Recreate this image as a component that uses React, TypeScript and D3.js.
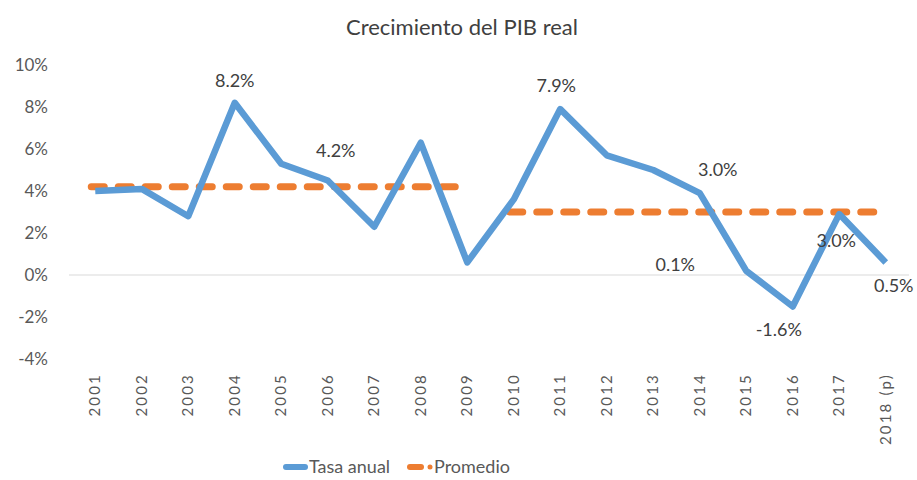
import * as d3 from "d3";
import { useEffect, useRef } from "react";

// categories and values
const years = ["2001", "2002", "2003", "2004", "2005", "2006", "2007", "2008", "2009",
  "2010", "2011", "2012", "2013", "2014", "2015", "2016", "2017", "2018 (p)"];
const tasaAnual = [4.0, 4.1, 2.8, 8.2, 5.3, 4.5, 2.3, 6.3, 0.6,
  3.6, 7.9, 5.7, 5.0, 3.9, 0.2, -1.5, 2.9, 0.6];
// promedio per period
const promedioPeriods = [
  { from: "2001", to: "2009", value: 4.2 },
  { from: "2010", to: "2018 (p)", value: 3.0 },
];
const yTicks = [-4, -2, 0, 2, 4, 6, 8, 10];
// data labels: text, anchor year, anchor value
const dataLabels = [
  { year: "2004", value: 8.2, text: "8.2%", dx: 0, dy: -16 },
  { year: "2006", value: 4.2, text: "4.2%", dx: 8, dy: -30 },
  { year: "2011", value: 7.9, text: "7.9%", dx: -4, dy: -17 },
  { year: "2014", value: 3.0, text: "3.0%", dx: 18, dy: -36 },
  { year: "2015", value: 0.1, text: "0.1%", dx: -71, dy: -2 },
  { year: "2016", value: -1.6, text: "-1.6%", dx: -14, dy: 27 },
  { year: "2017", value: 3.0, text: "3.0%", dx: -3, dy: 35 },
  { year: "2018 (p)", value: 0.5, text: "0.5%", dx: 8, dy: 27 },
];

const BLUE = "#5B9BD5";
const ORANGE = "#ED7D31";
const FONT = "Lato, 'Open Sans', sans-serif";

const Chart = () => {
  const ref = useRef<SVGSVGElement>(null);

  useEffect(() => {
    const svg = d3.select(ref.current);
    svg.selectAll("*").remove();

    const left = 72, right = 909, top = 65, bottom = 359;

    const x = d3.scaleBand().domain(years).range([left, right]);
    const y = d3.scaleLinear().domain([-4, 10]).range([bottom, top]);
    const cx = (d: string) => (x(d) as number) + x.bandwidth() / 2;

    svg.append("text")
      .attr("x", 462).attr("y", 35)
      .attr("text-anchor", "middle")
      .attr("font-family", FONT)
      .attr("font-size", 22)
      .attr("fill", "#404040")
      .text("Crecimiento del PIB real");

    // y axis labels
    const yAxis = svg.append("g")
      .attr("transform", `translate(${left - 21},0)`)
      .call(d3.axisLeft(y).tickValues(yTicks).tickSize(0).tickFormat((d) => d + "%"));
    yAxis.select(".domain").remove();
    yAxis.selectAll("text")
      .attr("font-family", FONT)
      .attr("font-size", 17)
      .attr("fill", "#595959");

    // zero line
    svg.append("line")
      .attr("x1", left - 3).attr("x2", right)
      .attr("y1", y(0)).attr("y2", y(0))
      .attr("stroke", "#d9d9d9").attr("stroke-width", 1);

    // x axis labels
    svg.append("g")
      .selectAll("text")
      .data(years)
      .join("text")
      .attr("transform", (d) => `translate(${cx(d) + 5},${373}) rotate(-90)`)
      .attr("text-anchor", "end")
      .attr("font-family", FONT)
      .attr("font-size", 15)
      .attr("letter-spacing", 2.2)
      .attr("fill", "#595959")
      .text((d) => d);

    // promedio
    svg.append("g")
      .selectAll("line")
      .data(promedioPeriods)
      .join("line")
      .attr("x1", (d) => cx(d.from) - 4)
      .attr("x2", (d) => cx(d.to) - 8)
      .attr("y1", (d) => y(d.value))
      .attr("y2", (d) => y(d.value))
      .attr("stroke", ORANGE)
      .attr("stroke-width", 7)
      .attr("stroke-linecap", "round")
      .attr("stroke-dasharray", "13,14");

    // tasa anual
    const line = d3.line<number>()
      .x((_, i) => cx(years[i]))
      .y((d) => y(d));
    svg.append("path")
      .datum(tasaAnual)
      .attr("d", line)
      .attr("fill", "none")
      .attr("stroke", BLUE)
      .attr("stroke-width", 6.5)
      .attr("stroke-linejoin", "round");

    // data labels
    svg.append("g")
      .selectAll("text")
      .data(dataLabels)
      .join("text")
      .attr("x", (d) => cx(d.year) + d.dx)
      .attr("y", (d) => y(d.value) + d.dy)
      .attr("text-anchor", "middle")
      .attr("font-family", FONT)
      .attr("font-size", 18)
      .attr("fill", "#404040")
      .text((d) => d.text);

    // legend
    const lg = svg.append("g").attr("font-family", FONT).attr("font-size", 18).attr("fill", "#595959");
    lg.append("line")
      .attr("x1", 286).attr("x2", 305).attr("y1", 467).attr("y2", 467)
      .attr("stroke", BLUE).attr("stroke-width", 6).attr("stroke-linecap", "round");
    lg.append("text").attr("x", 309).attr("y", 473).text("Tasa anual");
    lg.append("line")
      .attr("x1", 410).attr("x2", 421).attr("y1", 467).attr("y2", 467)
      .attr("stroke", ORANGE).attr("stroke-width", 6).attr("stroke-linecap", "round");
    lg.append("circle").attr("cx", 430).attr("cy", 467).attr("r", 2.5).attr("fill", ORANGE);
    lg.append("text").attr("x", 434).attr("y", 473).text("Promedio");
  }, []);

  return (
    <svg ref={ref} width={917} height={480}
      style={{ position: "absolute", left: 0, top: 0, background: "#fff" }} />
  );
};

export default function App() {
  return <Chart />;
}
